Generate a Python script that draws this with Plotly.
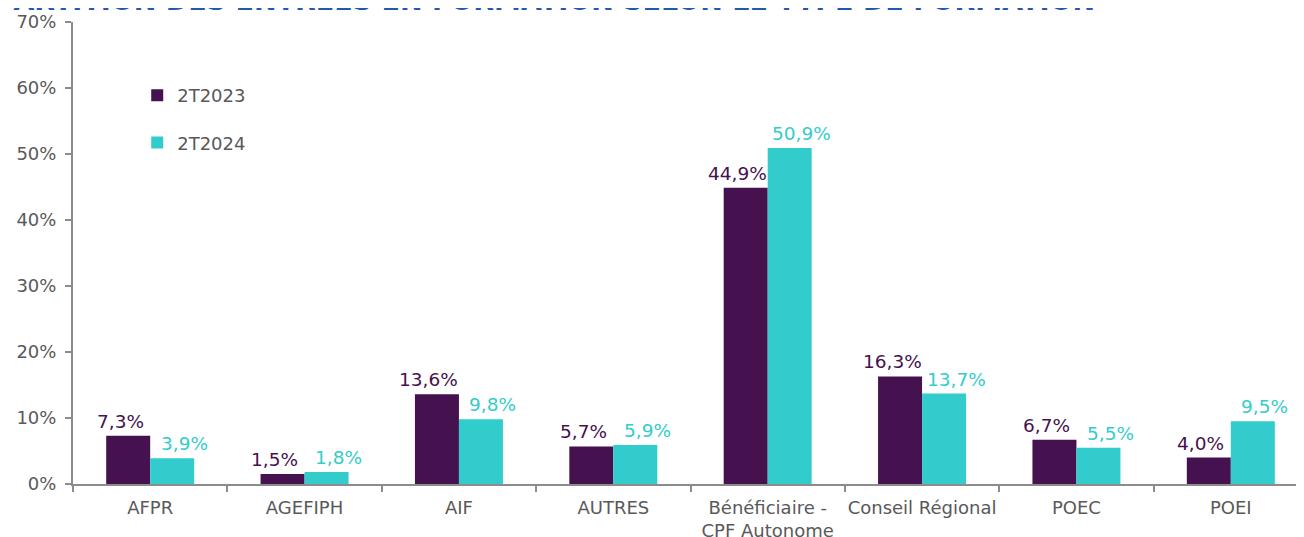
import plotly.graph_objects as go

categories = ["AFPR", "AGEFIPH", "AIF", "AUTRES", "Bénéficiaire -<br>CPF Autonome",
              "Conseil Régional", "POEC", "POEI"]
s2023 = [7.3, 1.5, 13.6, 5.7, 44.9, 16.3, 6.7, 4.0]
s2024 = [3.9, 1.8, 9.8, 5.9, 50.9, 13.7, 5.5, 9.5]
series_names = ["2T2023", "2T2024"]
colors = ["#45114E", "#33CCCC"]
title_text = "RÉPARTITION DES ENTRÉES EN FORMATION SELON LE TYPE DE FORMATION"
ytick_vals = [0, 10, 20, 30, 40, 50, 60, 70]
ytick_text = [f"{v}%" for v in ytick_vals]

FONT = "DejaVu Sans"
LABEL_DX = [-30, 34]  # horizontal nudge of value labels for each series (px)
W, H = 1304, 537

fig = go.Figure()
annotations = []
for i, (name, vals) in enumerate(zip(series_names, [s2023, s2024])):
    fig.add_trace(go.Bar(
        x=categories, y=vals, name=name, legendgroup=name,
        marker=dict(color=colors[i], line=dict(width=0)),
    ))
    for c, v in zip(categories, vals):
        annotations.append(dict(
            x=c, y=v, xref="x", yref="y", xanchor="center", yanchor="bottom",
            xshift=LABEL_DX[i], yshift=2, showarrow=False,
            text=f"{v:.1f}".replace(".", ",") + "%",
            font=dict(color=colors[i], size=18.5, family=FONT),
        ))

# page body has an 8px margin: compensate in the figure margins
fig.update_layout(
    width=W, height=H,
    margin=dict(l=65, r=4, t=14, b=61),
    paper_bgcolor="white", plot_bgcolor="white",
    barmode="group", bargap=0.43, bargroupgap=0,
    font=dict(family=FONT, color="#595959", size=18),
    title=dict(text=f"<b>{title_text}</b>", xref="container", yref="container",
               x=1087 / W, xanchor="right", y=1 - 2 / H, yanchor="bottom",
               pad=dict(t=0, b=0, l=0, r=0), automargin=False,
               font=dict(size=27, color="#1F5AAE", family=FONT)),
    showlegend=True,
    legend=dict(x=0.052, y=0.881, xanchor="left", yanchor="top",
                font=dict(size=18, color="#595959", family=FONT),
                traceorder="grouped", tracegroupgap=21,
                itemwidth=30, bgcolor="rgba(0,0,0,0)"),
    xaxis=dict(showline=True, linecolor="#8C8C8C", linewidth=2,
               ticks="outside", tickson="boundaries", ticklen=6,
               tickcolor="#8C8C8C", tickwidth=2, ticklabelstandoff=6,
               tickangle=0, automargin=False,
               tickfont=dict(size=18, color="#595959")),
    yaxis=dict(range=[0, 70], tickvals=ytick_vals, ticktext=ytick_text,
               showline=True, linecolor="#8C8C8C", linewidth=2,
               ticks="outside", ticklen=6, tickcolor="#8C8C8C", tickwidth=2,
               ticklabelstandoff=5, automargin=False,
               showgrid=False, zeroline=False,
               tickfont=dict(size=18, color="#595959")),
    annotations=annotations,
)

fig.write_html("out.html")
